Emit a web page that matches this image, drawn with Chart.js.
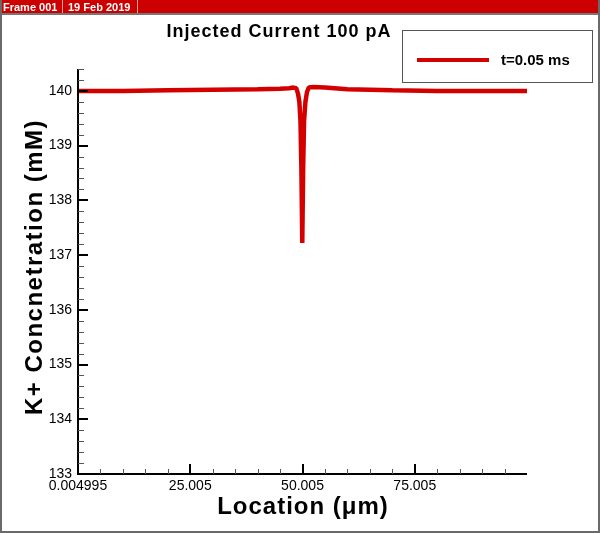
<!DOCTYPE html>
<html lang="en">
<head>
  <meta charset="UTF-8">
  <title>Injected Current 100 pA</title>
  <script src="https://cdn.jsdelivr.net/npm/chart.js"></script>
  <style>
    body {
      margin: 0;
      background: #fff;
    }
    canvas {
      display: block;
    }
  </style>
</head>
<body>

  <canvas id="kChart" width="600" height="533"></canvas>

  <script>
    // location along the cable (um) and K+ concentration (mM)
    const location_um = [0.004995, 10, 20, 30, 40, 45, 47, 48, 48.6, 49.0, 49.3, 49.55, 49.75, 49.95,
                         50.15, 50.35, 50.65, 51.0, 51.4, 52.5, 55, 60, 65, 70, 80, 90, 99.995];
    const kConc = [140.0, 140.0, 140.01, 140.02, 140.03, 140.04, 140.05, 140.06, 140.05, 139.95, 139.8, 139.45, 138.6, 137.22,
                   138.6, 139.45, 139.8, 139.98, 140.06, 140.07, 140.06, 140.03, 140.02, 140.01, 140.0, 140.0, 140.0];
    const seriesLabel = 't=0.05 ms';

    const xTicks = [0.004995, 25.005, 50.005, 75.005];
    const xTickLabels = ['0.004995', '25.005', '50.005', '75.005'];
    const yTicks = [133, 134, 135, 136, 137, 138, 139, 140];

    const red = 'rgb(212, 0, 0)';
    const fontFam = 'Arial, "Liberation Sans", sans-serif';
    Chart.defaults.font.family = fontFam;

    // header bar, titles, legend box and inward tick marks
    const decor = {
      id: 'decor',
      beforeDraw(chart) {
        const c = chart.ctx;
        c.save();
        c.fillStyle = '#fff';
        c.fillRect(0, 0, 600, 533);
        c.restore();
      },
      afterDraw(chart) {
        const c = chart.ctx;
        const area = chart.chartArea;
        const xs = chart.scales.x;
        const ys = chart.scales.y;
        c.save();

        // frame header
        c.fillStyle = '#cc0000';
        c.fillRect(0, 0, 600, 13);
        c.fillStyle = '#777';
        c.fillRect(0, 13, 600, 2);
        c.fillStyle = '#f2a0a0';
        c.fillRect(62, 0, 1, 13);
        c.fillRect(137, 0, 1, 13);
        c.fillStyle = '#fff';
        c.font = 'bold 11px ' + fontFam;
        c.textBaseline = 'alphabetic';
        c.fillText('Frame 001', 3, 11);
        c.fillText('19 Feb 2019', 68, 11);

        // outer border
        c.fillStyle = '#6a6a6a';
        c.fillRect(0, 0, 2, 533);
        c.fillRect(598, 0, 2, 533);
        c.fillRect(0, 531, 600, 2);

        // axes
        c.strokeStyle = '#000';
        c.lineWidth = 2;
        c.beginPath();
        c.moveTo(area.left, area.top);
        c.lineTo(area.left, area.bottom + 1);
        c.moveTo(area.left - 1, area.bottom);
        c.lineTo(area.right, area.bottom);
        c.stroke();

        // minor ticks
        c.strokeStyle = '#555';
        c.lineWidth = 1;
        c.beginPath();
        for (let v = xs.min + 5; v < xs.max; v += 5) {
          const px = Math.round(xs.getPixelForValue(v)) + 0.5;
          c.moveTo(px, area.bottom);
          c.lineTo(px, area.bottom - 5);
        }
        for (let v = ys.min + 0.2; v < ys.max + 0.01; v += 0.2) {
          const py = Math.round(ys.getPixelForValue(v)) + 0.5;
          c.moveTo(area.left, py);
          c.lineTo(area.left + 6, py);
        }
        c.stroke();

        // major ticks
        c.strokeStyle = '#000';
        c.lineWidth = 2;
        c.beginPath();
        xTicks.forEach(v => {
          const px = Math.round(xs.getPixelForValue(v));
          c.moveTo(px, area.bottom);
          c.lineTo(px, area.bottom - 10);
        });
        yTicks.forEach(v => {
          const py = Math.round(ys.getPixelForValue(v));
          c.moveTo(area.left, py);
          c.lineTo(area.left + 10, py);
        });
        c.stroke();

        // titles
        c.fillStyle = '#000';
        c.textAlign = 'center';
        c.textBaseline = 'alphabetic';
        c.font = 'bold 18px ' + fontFam;
        c.letterSpacing = '1px';
        c.fillText('Injected Current 100 pA', 279, 37);

        c.font = 'bold 24px ' + fontFam;
        c.letterSpacing = '1px';
        c.fillText('Location (\u03bcm)', 303, 514);

        c.save();
        c.translate(42, 267);
        c.rotate(-Math.PI / 2);
        c.letterSpacing = '1.5px';
        c.fillText('K+ Concnetration (mM)', 0, 0);
        c.restore();

        // legend
        c.letterSpacing = '0px';
        c.strokeStyle = '#555';
        c.lineWidth = 1;
        c.strokeRect(402.5, 30.5, 190, 52);
        c.strokeStyle = red;
        c.lineWidth = 4;
        c.beginPath();
        c.moveTo(417, 60);
        c.lineTo(489, 60);
        c.stroke();
        c.textAlign = 'left';
        c.font = 'bold 15px ' + fontFam;
        c.fillText(chart.data.datasets[0].label, 501, 65);

        c.restore();
      }
    };

    const ctx = document.getElementById('kChart').getContext('2d');
    const chart = new Chart(ctx, {
      type: 'line',
      data: {
        datasets: [{
          label: seriesLabel,
          data: location_um.map((x, i) => ({ x: x, y: kConc[i] })),
          borderColor: red,
          backgroundColor: red,
          borderWidth: 4.5,
          borderJoinStyle: 'bevel',
          pointRadius: 0,
          tension: 0
        }]
      },
      options: {
        responsive: false,
        animation: false,
        layout: { padding: { left: 0, right: 73, top: 69, bottom: 0 } },
        plugins: {
          legend: { display: false },
          title: { display: false },
          tooltip: { enabled: false }
        },
        scales: {
          x: {
            type: 'linear',
            min: 0.004995,
            max: 99.995,
            grid: { display: false, drawTicks: false },
            border: { display: false },
            afterBuildTicks: s => { s.ticks = xTicks.map(v => ({ value: v })); },
            afterFit: s => { s.height = 59; },
            ticks: {
              color: '#000',
              font: { size: 14 },
              padding: 4,
              maxRotation: 0,
              autoSkip: false,
              callback: (v, i) => xTickLabels[i]
            }
          },
          y: {
            min: 133,
            max: 140.4,
            grid: { display: false, drawTicks: false },
            border: { display: false },
            afterBuildTicks: s => { s.ticks = yTicks.map(v => ({ value: v })); },
            afterFit: s => { s.width = 78; },
            ticks: {
              color: '#000',
              font: { size: 14 },
              padding: 6,
              autoSkip: false
            }
          }
        }
      },
      plugins: [decor]
    });
  </script>

</body>
</html>
